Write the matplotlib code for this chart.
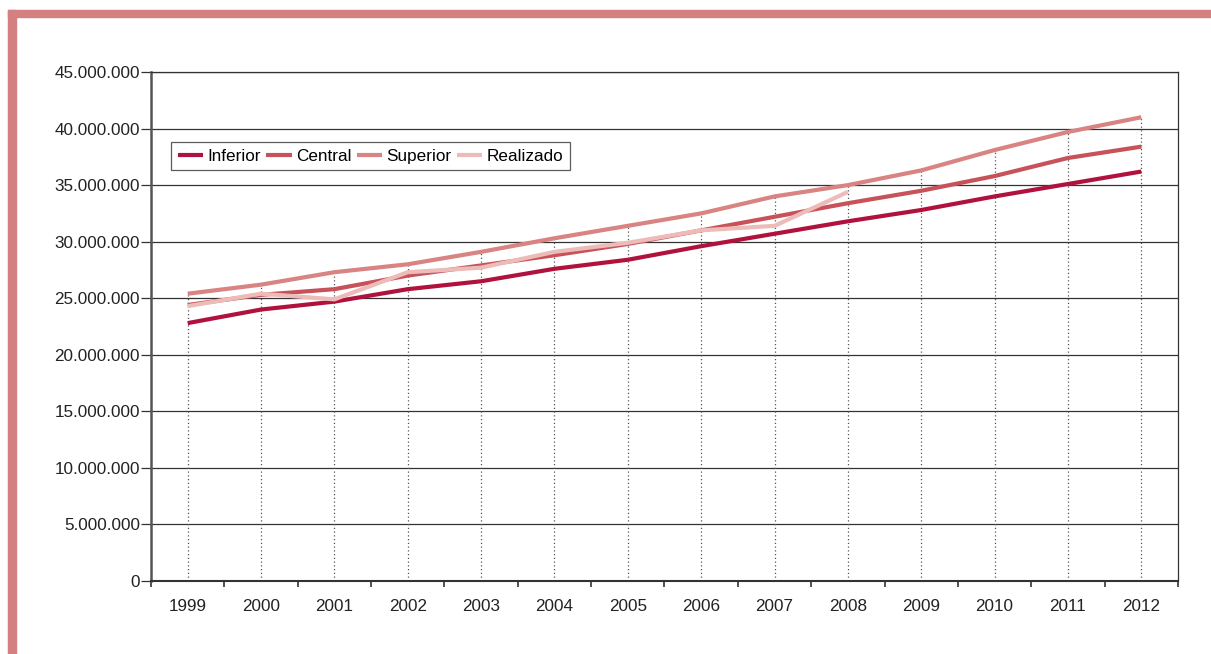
import matplotlib
matplotlib.use("Agg")
import matplotlib.pyplot as plt
from matplotlib.patches import Rectangle
from matplotlib.ticker import FixedLocator, FuncFormatter
import numpy as np

plt.rcParams['font.family'] = ['Liberation Sans', 'DejaVu Sans']

years = ['1999', '2000', '2001', '2002', '2003', '2004', '2005', '2006',
         '2007', '2008', '2009', '2010', '2011', '2012']

# Projected scenarios and observed values
inferior = [22.8, 24.0, 24.7, 25.8, 26.5, 27.6, 28.4, 29.6, 30.7, 31.8,
            32.8, 34.0, 35.1, 36.2]
central = [24.4, 25.3, 25.8, 27.0, 27.9, 28.8, 29.8, 31.0, 32.2, 33.4,
           34.5, 35.8, 37.4, 38.4]
superior = [25.4, 26.2, 27.3, 28.0, 29.1, 30.3, 31.4, 32.5, 34.0, 35.0,
            36.3, 38.1, 39.7, 41.0]
realizado = [24.3, 25.4, 24.9, 27.3, 27.7, 29.1, 29.9, 31.0, 31.4, 34.4]

series = [
    ('Inferior', inferior, '#B1123D'),
    ('Central', central, '#C8525A'),
    ('Superior', superior, '#D98382'),
    ('Realizado', realizado, '#EDBCB9'),
]

scale = 1_000_000

fig = plt.figure(figsize=(12.11, 6.54), dpi=100)
W, H = 1211, 654

# Decorative frame along the top and left edges
frame_color = '#D47F80'
fig.patches.append(Rectangle((8 / W, (H - 17) / H), 1 - 8 / W, 7 / H,
                             transform=fig.transFigure, color=frame_color,
                             zorder=0))
fig.patches.append(Rectangle((8 / W, 0), 8 / W, (H - 10) / H,
                             transform=fig.transFigure, color=frame_color,
                             zorder=0))

ax = fig.add_axes([151 / W, 73 / H, 1027 / W, 509 / H])
x = np.arange(len(years))

# Dotted drop lines from the highest value in each year down to zero
for i in x:
    top = max(s[i] for _, s, _ in series if i < len(s)) * scale
    ax.plot([i, i], [0, top], color='#555555', lw=0.9,
            linestyle=(0, (1, 2)), zorder=1)

for name, vals, color in series:
    ax.plot(x[:len(vals)], np.array(vals) * scale, color=color, lw=3.0,
            label=name, zorder=3, solid_capstyle='butt')

ax.set_xlim(-0.5, len(years) - 0.5)
ax.set_ylim(0, 45 * scale)

ax.yaxis.set_major_locator(FixedLocator(np.arange(0, 45.1, 5) * scale))
ax.yaxis.set_major_formatter(
    FuncFormatter(lambda v, p: f"{int(round(v)):,}".replace(',', '.')))
ax.grid(axis='y', color='#333333', lw=0.9, zorder=0)
ax.set_axisbelow(True)

ax.set_xticks(x)
ax.set_xticklabels(years)
ax.set_xticks(np.arange(-0.5, len(years), 1), minor=True)
ax.tick_params(axis='x', which='major', length=0, pad=13, labelsize=12.3,
               labelcolor='#222222')
ax.tick_params(axis='x', which='minor', length=4, width=1.2,
               color='#333333', direction='out')
ax.tick_params(axis='y', length=7, width=0.9, pad=1, labelsize=12.3,
               color='#333333', labelcolor='#222222')

for side in ['top', 'right']:
    ax.spines[side].set_color('#333333')
    ax.spines[side].set_linewidth(0.9)
ax.spines['bottom'].set_color('#333333')
ax.spines['bottom'].set_linewidth(1.5)
ax.spines['left'].set_color('#555555')
ax.spines['left'].set_linewidth(1.8)

leg = ax.legend(loc='upper left', bbox_to_anchor=(0.0195, 0.862), ncol=4,
                frameon=True, fancybox=False, fontsize=12.3,
                handlelength=1.5, handletextpad=0.25, columnspacing=0.3,
                borderpad=0.38, borderaxespad=0)
leg.get_frame().set_edgecolor('#333333')
leg.get_frame().set_linewidth(0.9)

fig.savefig('out.png', dpi=100)
